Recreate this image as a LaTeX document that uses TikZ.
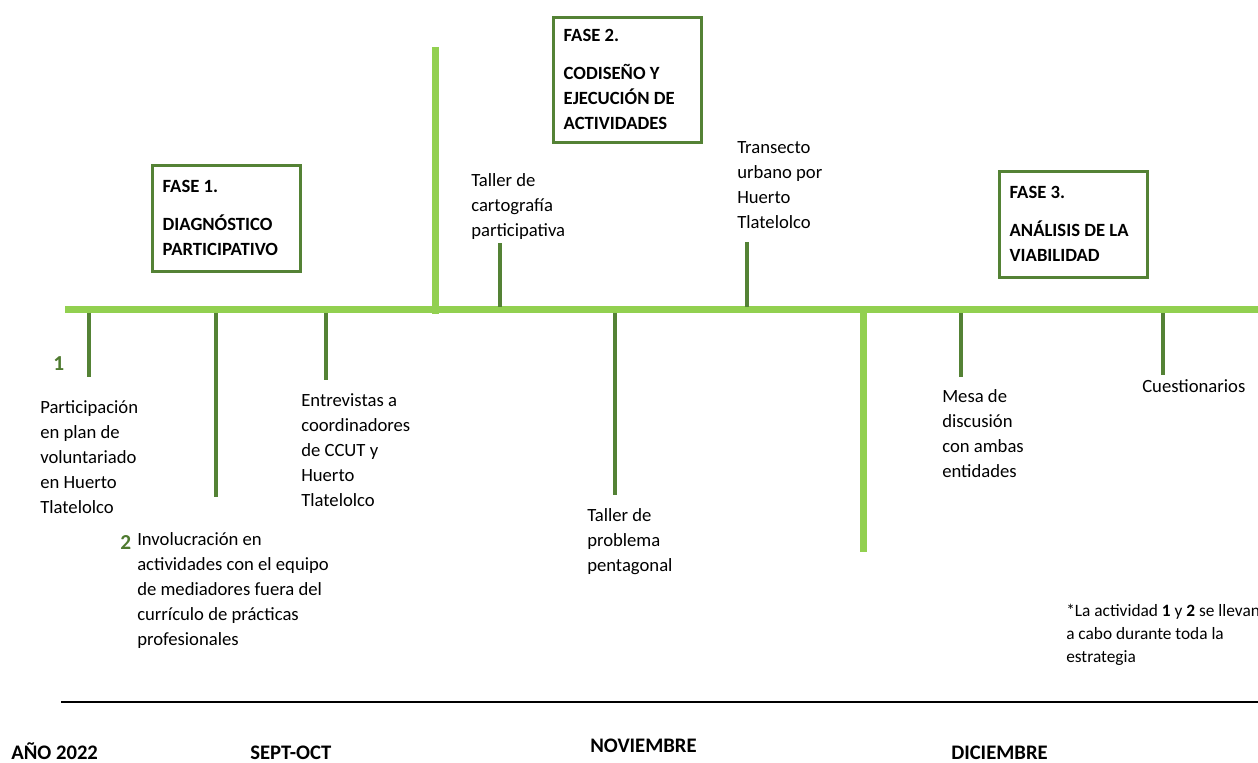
\documentclass[tikz,border=0pt]{standalone}
\usepackage{fontspec}
\setmainfont{Carlito}
\usepackage{xcolor}
\usepackage{tikz}
\usetikzlibrary{positioning}
\definecolor{lightgreen}{HTML}{92D050}
\definecolor{darkgreen}{HTML}{548235}
\definecolor{numgreen}{HTML}{4E7A2F}
\tikzset{
  bar/.style={draw=lightgreen,line width=5.25pt},
  tickline/.style={draw=darkgreen,line width=3pt},
  phase/.style={draw=darkgreen,line width=2.25pt,anchor=north west,text width=95pt,inner xsep=8pt,inner ysep=0pt,align=flush left,font=\fontsize{14pt}{18.75pt}\selectfont\bfseries,execute at begin node=\strut,execute at end node=\strut},
  activity/.style={anchor=north west,inner sep=0pt,align=left,font=\fontsize{14pt}{18.75pt}\selectfont,execute at begin node=\strut},
  note/.style={anchor=north west,inner sep=0pt,align=left,font=\fontsize{13pt}{17.25pt}\selectfont,execute at begin node=\strut},
  num/.style={anchor=west,inner sep=0pt,text=numgreen,font=\fontsize{16pt}{19pt}\selectfont\bfseries},
  month/.style={anchor=base west,inner sep=0pt,font=\fontsize{15.5pt}{19pt}\selectfont\bfseries}
}

\begin{document}
\begin{tikzpicture}[x=0.75pt,y=-0.75pt]
        \useasboundingbox (0,0) rectangle (1258,763);

        %%% COORDINATES %%%
        \draw (65,310) coordinate (lineL);
        \draw (1258,310) coordinate (lineR);
        \draw (435,47) coordinate (barAtop);
        \draw (435,314) coordinate (barAbot);
        \draw (863,310) coordinate (barBtop);
        \draw (863,552) coordinate (barBbot);
        \draw (61,702) coordinate (monthL);
        \draw (1258,702) coordinate (monthR);

        %%% TIMELINE & BARS %%%
        \draw[bar] (lineL)--(lineR);
        \draw[bar] (barAtop)--(barAbot);
        \draw[bar] (barBtop)--(barBbot);
        \draw[black,line width=1.5pt] (monthL)--(monthR);

        %%% TICKS %%%
        \foreach \name/\x/\ya/\yb in {p1/89/313/377, p2/216/313/497, p3/326/313/380, p4/500/307/243, p5/615/313/495, p6/747/307/242, p7/961/313/377, p8/1163/313/375}{
            \coordinate (\name a) at (\x,\ya);
            \coordinate (\name b) at (\x,\yb);
            \draw[tickline] (\name a)--(\name b);
        }

        %%% PHASES %%%
        \node[phase,minimum height=79.5pt] (fase1) at (150.5,164.5) {FASE 1.\\[10pt]DIAGNÓSTICO\\PARTICIPATIVO};
        \node[phase,minimum height=93.75pt] (fase2) at (551.5,16.5) {FASE 2.\\[10pt]CODISEÑO Y\\EJECUCIÓN DE\\ACTIVIDADES};
        \node[phase,minimum height=79.5pt] (fase3) at (997.5,170.5) {FASE 3.\\[10pt]ANÁLISIS DE LA\\VIABILIDAD};

        %%% ACTIVITIES %%%
        \node[num] (uno) at (53,364) {1};
        \node[activity] (voluntariado) at (40,400.5) {Participación\\en plan de\\voluntariado\\en Huerto\\Tlatelolco};
        \node[num] (dos) at (120,543) {2};
        \node[activity] (involucracion) at (137,532) {Involucración en\\actividades con el equipo\\de mediadores fuera del\\currículo de prácticas\\profesionales};
        \node[activity] (entrevistas) at (301,393) {Entrevistas a\\coordinadores\\de CCUT y\\Huerto\\Tlatelolco};
        \node[activity] (cartografia) at (471,173.5) {Taller de\\cartografía\\participativa};
        \node[activity] (pentagonal) at (587,508.5) {Taller de\\problema\\pentagonal};
        \node[activity] (transecto) at (737,141) {Transecto\\urbano por\\Huerto\\Tlatelolco};
        \node[activity] (mesa) at (942,389) {Mesa de\\discusión\\con ambas\\entidades};
        \node[activity] (cuestionarios) at (1142,375) {Cuestionarios};
        \node[note] (nota) at (1066,604) {*La actividad \textbf{1} y \textbf{2} se llevan\\a cabo durante toda la\\estrategia};

        %%% MONTHS %%%
        \node[month] (anio) at (11,759) {AÑO 2022};
        \node[month] (septoct) at (250,759) {SEPT-OCT};
        \node[month] (noviembre) at (590,752) {NOVIEMBRE};
        \node[month] (diciembre) at (951,759) {DICIEMBRE};
    \end{tikzpicture}
\end{document}
